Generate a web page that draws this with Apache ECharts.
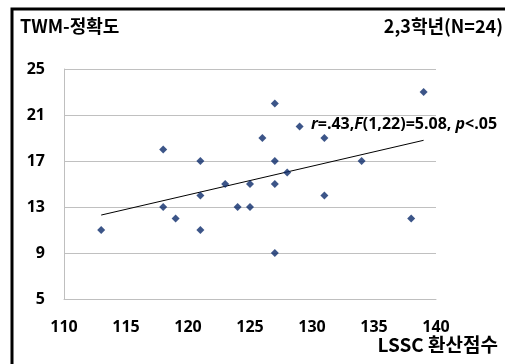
<!DOCTYPE html>
<html><head><meta charset="utf-8">
<script src="https://cdn.jsdelivr.net/npm/echarts@6/dist/echarts.min.js"></script>
<style>html,body{margin:0;padding:0;background:#fff}#c{width:505px;height:364px}</style>
</head><body><div id="c"></div>
<script>
var xValues = [113,118,118,119,121,121,121,123,124,125,125,126,127,127,127,127,128,129,131,131,134,138,139];
var yValues = [11,18,13,12,17,14,11,15,13,15,13,19,22,17,15,9,16,20,19,14,17,12,23];
var trendX = [113,139];
var trendY = [12.3,18.8];
var xTicks = [110,115,120,125,130,135,140];
var yTicks = [5,9,13,17,21,25];

var F = "'Open Sans','Noto Sans CJK KR',sans-serif";
var KF = "'Noto Sans CJK KR','Open Sans',sans-serif";
var pts = xValues.map(function(x,i){return [x,yValues[i]];});
var trend = trendX.map(function(x,i){return [x,trendY[i]];});
var chart = echarts.init(document.getElementById('c'), null, {renderer:'canvas'});
chart.setOption({
  animation:false,
  backgroundColor:'#fff',
  grid:{left:64,top:69,width:372,height:230,containLabel:false},
  xAxis:{type:'value',min:xTicks[0],max:xTicks[xTicks.length-1],interval:5,
    axisLine:{show:true,lineStyle:{color:'#bfbfbf',width:1}},
    axisTick:{show:false},splitLine:{show:false},
    axisLabel:{margin:20,color:'#000',fontWeight:'bold',fontSize:16,fontFamily:F,
      formatter:function(v){return v;}}},
  yAxis:{type:'value',min:yTicks[0],max:yTicks[yTicks.length-1],interval:4,
    axisLine:{show:true,lineStyle:{color:'#bfbfbf',width:1}},
    axisTick:{show:false},
    splitLine:{show:true,lineStyle:{color:'#c0c0c0',width:1}},
    axisLabel:{margin:19,color:'#000',fontWeight:'bold',fontSize:16,fontFamily:F}},
  series:[
    {type:'line',data:trend,showSymbol:false,symbol:'none',lineStyle:{color:'#000',width:1},z:2},
    {type:'scatter',data:pts,symbol:'diamond',symbolSize:8,itemStyle:{color:'#0b2a6a'},z:3}
  ],
  graphic:[
    {type:'rect',shape:{x:12,y:9,width:600,height:600},style:{fill:'none',stroke:'#000',lineWidth:3},z:10},
    {type:'text',left:20,top:17,style:{text:'TWM-정확도',font:'bold 18px '+KF,fill:'#000'}},
    {type:'text',right:2,top:17,style:{text:'2,3학년(N=24)',font:'bold 18px '+KF,fill:'#000'}},
    {type:'text',right:7,top:335,style:{text:'LSSC 환산점수',font:'bold 19px '+KF,fill:'#000'}},
    {type:'text',left:311,top:116,style:{
      text:'{i|r}{n|=.43,}{i|F}{n|(1,22)=5.08, }{i|p}{n|<.05}',
      rich:{
        i:{fontStyle:'italic',fontWeight:'bold',fontSize:16,fontFamily:F,fill:'#000'},
        n:{fontWeight:'bold',fontSize:16,fontFamily:F,fill:'#000'}
      }}}
  ]
});
</script></body></html>
